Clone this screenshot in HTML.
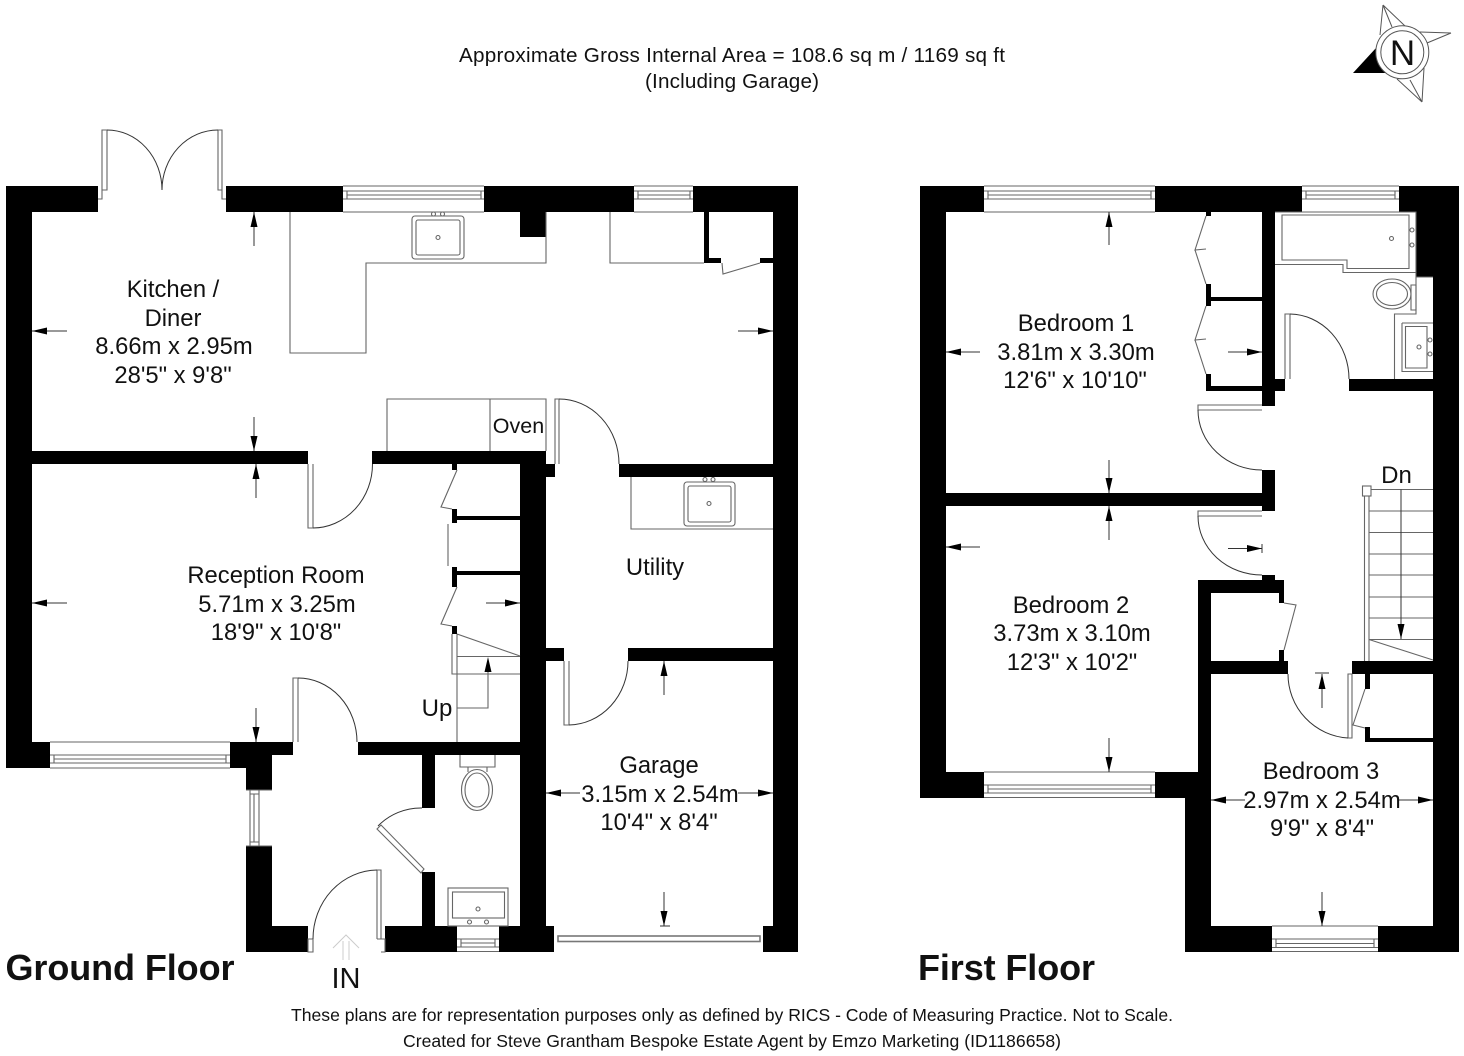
<!DOCTYPE html>
<html><head><meta charset="utf-8"><style>html,body{margin:0;padding:0;background:#fff}svg{display:block}text{font-family:"Liberation Sans",sans-serif;fill:#111;text-anchor:middle}.r{font-size:23.8px}.t{fill:none;stroke:#666;stroke-width:1.1}.a{fill:none;stroke:#333;stroke-width:1}</style></head><body>
<svg width="1464" height="1056" viewBox="0 0 1464 1056" xmlns="http://www.w3.org/2000/svg">
<rect width="1464" height="1056" fill="#fff"/>
<!-- Walls ground -->
<path fill="#000" d="M6 186H98V212H32V451H308V464H32V742H293V755H272V790H246V768H230V742H50V768H6ZM246 846H272V926H308V952H246ZM226 186H343V212H226ZM484 186H634V212H546V237H520V212H484ZM693 186H798V952H773V661H628V648H773V477H619V464H773V212H709V258H721V263H704V212H693ZM760 258H773V263H760ZM763 926H773V952H763ZM372 451H546V464H555V477H546V648H564V661H546V926H554V952H499V926H520V755H435V808H422V755H358V742H520V661H520V648H520V464H372ZM385 926H422V872H435V926H457V952H385Z"/>
<path fill="#000" d="M452 464H457V470H452ZM452 509H457V516H520V520H457V523H452ZM452 567H457V571H520V575H457V587H452ZM452 626H457V634H452Z"/>
<!-- Walls first -->
<path fill="#000" d="M920 186H984V212H946V493H1262V470H1275V511H1262V506H946V772H984V798H920ZM1155 186H1302V212H1275V379H1285V391H1275V406H1262V391H1206V374H1211V386H1262V301H1211V306H1206V284H1211V297H1262V212H1211V216H1206V212H1155ZM1399 186H1459V952H1185V798H1155V772H1198V580H1262V575H1275V580H1284V603H1279V593H1211V661H1279V650H1284V661H1288V674H1211V772H1211V926H1272V926H1378V926H1433V742H1365V727H1370V738H1433V674H1370V689H1365V674H1352V661H1433V391H1349V379H1433V277H1416V212H1399Z"/>
<rect x="1272" y="926" width="106" height="26" fill="#fff"/>
<!-- Windows ground -->
<g class="t">
<path d="M343 186H484M343 212H484M343 191H484M343 199H484M347 191V199M481 191V199M347 195H481"/>
<path d="M634 186H693M634 212H693M634 191H693M634 199H693M638 191V199M690 191V199M638 195H690"/>
<path d="M50 742H230M50 768H230M50 755H230M50 763H230M54 755V763M226 755V763M54 759H226"/>
<path d="M246 790H272M246 846H272M250 790V846M259 790V846M254 794V842M250 794H259M250 842H259"/>
<path d="M457 939H499M457 947H499M457 951.500H499M461 939V947M495 939V947M461 943H495"/>
<path d="M984 186H1155M984 212H1155M984 191H1155M984 199H1155M988 191V199M1151 191V199M988 195H1151"/>
<path d="M1302 186H1399M1302 212H1399M1302 191H1399M1302 199H1399M1306 191V199M1395 191V199M1306 195H1395"/>
<path d="M984 772H1155M984 797.500H1155M984 785H1155M984 793H1155M988 785V793M1151 785V793M988 789H1151"/>
<path d="M1272 926H1378M1272 951.500H1378M1272 939H1378M1272 947.500H1378M1276 939V947.500M1374 939V947.500M1276 943.500H1374"/>
<!-- Door leaves ground -->
<path d="M98 199H102V130H107V190H102M226 199H222V130H218V190H222"/>
<path d="M308 464V528H313V464"/>
<path d="M293 742V678H298V742"/>
<path d="M555 464V399H559V464"/>
<path d="M564 661V725H569V661"/>
<path d="M308 939H313V952H308ZM381 952H385V939H381M377 939V870H381V939H377"/>
<path d="M377 829L381 825 424 869 421 873Z"/>
<path d="M457 470L441 507 452 509M457 587L441 624 452 626M448 524V566"/>
<path d="M722 263L723 274 760 263"/>
<!-- Door leaves first -->
<path d="M1262 405H1198V410H1262"/>
<path d="M1262 511H1198V516H1262"/>
<path d="M1285 379V314H1290V379"/>
<path d="M1348 674H1352V738H1348Z"/>
<path d="M1206 216L1195 250 1206 249M1195 250L1206 284M1206 306L1195 340 1206 339M1195 340L1206 374"/>
<path d="M1284 603L1296 605 1284 650"/>
<path d="M1365 689L1353 725 1365 728"/>
<!-- Worktops -->
<path d="M290 212V353H366V263H546V212"/>
<path d="M610 212V263H704"/>
<path d="M387 451V399H546V451M490 399V451"/>
<path d="M631 477V529H773"/>
<!-- Sinks -->
<rect x="412" y="216" width="52" height="43" rx="3"/><rect x="416" y="220" width="44" height="35" rx="2"/><circle cx="438" cy="237.500" r="2"/><circle cx="433.500" cy="214" r="2"/><circle cx="442.500" cy="214" r="2"/>
<rect x="684" y="482" width="51" height="44" rx="3"/><rect x="688" y="486" width="43" height="36" rx="2"/><circle cx="709" cy="503.500" r="2"/><circle cx="705" cy="479.500" r="2"/><circle cx="713" cy="479.500" r="2"/>
<!-- WC ground -->
<path d="M460 755V767H495V755M468 767V772M487 767V772"/>
<ellipse cx="477" cy="790" rx="15.500" ry="20.500"/><ellipse cx="477" cy="790" rx="12" ry="17"/>
<rect x="448" y="888" width="60" height="38"/><rect x="452.500" y="892" width="52" height="26"/><circle cx="478" cy="909" r="2"/><circle cx="469.500" cy="922" r="2"/><circle cx="486.500" cy="922" r="2"/>
<!-- Stairs ground -->
<path d="M452 634V674H520M457 634V742M457 634L520 656M457 656.500H520M457 708H488V672"/>
<!-- Bathroom -->
<path d="M1275 264.500H1343V272.500H1416M1282 215H1409V268.500H1347V260H1282Z"/>
<path d="M1275 212H1416V277H1433M1416 277V314H1394.500V379"/>
<circle cx="1391.500" cy="238.500" r="2"/><circle cx="1412" cy="230" r="2"/><circle cx="1412" cy="245" r="2"/>
<ellipse cx="1392" cy="294" rx="19" ry="15"/><ellipse cx="1392" cy="294" rx="15.500" ry="11.500"/>
<path d="M1411 285H1416V310H1411Z"/>
<path d="M1402 323H1433M1402 323V371.500H1433M1405.500 326.500H1427V368H1405.500Z"/>
<circle cx="1419" cy="347" r="2"/><circle cx="1430" cy="340" r="2"/><circle cx="1430" cy="354" r="2"/>
<!-- Stairs first -->
<rect x="1362.500" y="486" width="8.500" height="10"/>
<path d="M1364.500 496V661M1369 496V661M1371 489.500H1433M1369 511H1433M1369 532.500H1433M1369 554H1433M1369 575H1433M1369 597H1433M1369 618H1433M1369 639.500H1433M1369 639.500L1433 660"/>
</g>
<!-- Garage door -->
<rect x="558" y="936" width="202" height="5.500" fill="#fff" stroke="#777" stroke-width="1.600"/>
<!-- Arcs -->
<g class="a">
<path d="M107 130A55 60 0 0 1 162 190M218 130A56 60 0 0 0 162 190"/>
<path d="M313 528A60 64 0 0 0 372.500 464"/>
<path d="M298 678A59 64 0 0 1 357 742"/>
<path d="M559 399A60 65 0 0 1 619 464"/>
<path d="M569 725A60 64 0 0 0 628 661"/>
<path d="M313 939A65 69 0 0 1 377 870"/>
<path d="M378 826A60 60 0 0 1 422 808"/>
<path d="M1198 410A64 60 0 0 0 1262 470"/>
<path d="M1198 516A64 59 0 0 0 1262 575"/>
<path d="M1290 314A60 65 0 0 1 1349 379"/>
<path d="M1288 674A64 64 0 0 0 1348 738"/>
<!-- Arrow shafts -->
<path d="M32 331H67M254 212V246M254 417V451M256 464V498M738 331H773"/>
<path d="M32 603H67M486 603H520M256 708V742"/>
<path d="M664 661V695M664 892V926M660 926H670M546 793H580M738 793H773"/>
<path d="M1109 212V245M1109 460V493M1109 506V540M1109 738V772M946 352H980M1228 352H1262M946 547H980M1228 548.500H1262M1262 544V553M1322 708V674M1315 673H1329M1401 489.500V639"/>
<path d="M1211 800H1245M1399 800H1433M1322 892V926"/>
</g>
<!-- Arrowheads -->
<path fill="#000" d="M32 331l15-3.500v7zM254 212l-3.500 15h7zM254 451l-3.500-15h7zM256 464l-3.500 15h7zM773 331l-15-3.500v7zM32 603l15-3.500v7zM520 603l-15-3.500v7zM256 742l-3.500-15h7zM488 657l-3.500 15h7zM664 661l-3.500 15h7zM664 926l-3.500-15h7zM546 793l15-3.500v7zM773 793l-15-3.500v7zM1109 212l-3.500 15h7zM1109 493l-3.500-15h7zM1109 506l-3.500 15h7zM1109 772l-3.500-15h7zM946 352l15-3.500v7zM1262 352l-15-3.500v7zM946 547l15-3.500v7zM1262 548.500l-15-3.500v7zM1322 674l-3.500 15h7zM1401 639l-3.500-15h7zM1211 800l15-3.500v7zM1433 800l-15-3.500v7zM1322 926l-3.500-15h7z"/>
<!-- IN arrow -->
<path fill="none" stroke="#ccc" stroke-width="1" d="M333 948L346 935 359 948M343 960V941M349 960V941"/>
<!-- Compass -->
<g fill="none" stroke="#555" stroke-width="1">
<path fill="#000" stroke="none" d="M1353 73L1376 48 1386 73Z"/>
<path d="M1383 5L1380 35M1383 5L1405 26M1383 5L1392 27M1451 33L1420 32M1451 33L1427 43M1422 102L1397 79M1422 102L1424 68M1422 102L1410 80"/>
<circle cx="1402.300" cy="52.300" r="26.500" fill="#fff"/><circle cx="1402.300" cy="52.300" r="21.500"/>
</g>
<text x="1402.500" y="65" font-size="35">N</text>
<!-- Headings -->
<text x="732" y="62" font-size="20.700" textLength="546">Approximate Gross Internal Area = 108.6 sq m / 1169 sq ft</text>
<text x="732" y="88" font-size="20.700" textLength="174">(Including Garage)</text>
<!-- Room labels -->
<g class="r">
<text x="173" y="297">Kitchen /</text><text x="173" y="326">Diner</text><text x="174" y="354">8.66m x 2.95m</text><text x="173" y="383">28'5" x 9'8"</text>
<text x="276" y="583">Reception Room</text><text x="277" y="612">5.71m x 3.25m</text><text x="276" y="640">18'9" x 10'8"</text>
<text x="655" y="575">Utility</text>
<text x="659" y="773">Garage</text><text x="660" y="802">3.15m x 2.54m</text><text x="659" y="830">10'4" x 8'4"</text>
<text x="1076" y="331">Bedroom 1</text><text x="1076" y="360">3.81m x 3.30m</text><text x="1075" y="388">12'6" x 10'10"</text>
<text x="1071" y="613">Bedroom 2</text><text x="1072" y="641">3.73m x 3.10m</text><text x="1072" y="670">12'3" x 10'2"</text>
<text x="1321" y="779">Bedroom 3</text><text x="1322" y="808">2.97m x 2.54m</text><text x="1322" y="836">9'9" x 8'4"</text>
</g>
<text x="518.500" y="433" font-size="21.500">Oven</text>
<text x="437" y="716" font-size="24">Up</text>
<text x="1396.500" y="483" font-size="24">Dn</text>
<text x="346" y="988" font-size="29">IN</text>
<text x="120" y="980" font-size="36" font-weight="bold" textLength="229">Ground Floor</text>
<text x="1006.500" y="980" font-size="36" font-weight="bold" textLength="177">First Floor</text>
<text x="732" y="1021" font-size="17.600" textLength="882">These plans are for representation purposes only as defined by RICS - Code of Measuring Practice. Not to Scale.</text>
<text x="732" y="1047" font-size="17.600" textLength="658">Created for Steve Grantham Bespoke Estate Agent by Emzo Marketing (ID1186658)</text>
</svg>
</body></html>
